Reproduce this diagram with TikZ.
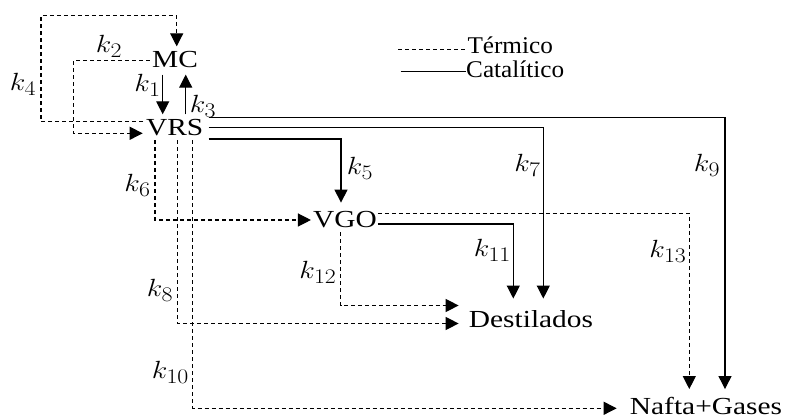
\documentclass[tikz,border=0pt]{standalone}
\usepackage{fontspec}
\usepackage{graphicx}
\setmainfont{Liberation Serif}
\usetikzlibrary{arrows.meta}
\newcommand{\wt}[1]{\scalebox{1.2}[1]{#1}}
\newcommand{\wk}[1]{\scalebox{1.15}[1]{#1}}
\newcommand{\wl}[1]{\scalebox{1.05}[1]{#1}}
\begin{document}
\begin{tikzpicture}[x=1pt,y=-1pt,
  box/.style={inner sep=0pt,outer sep=0pt,font=\fontsize{24.5}{28}\selectfont},
  kl/.style={inner sep=0pt,font=\fontsize{28}{32}\selectfont},
  leg/.style={inner sep=0pt,anchor=base west,font=\fontsize{24}{28}\selectfont},
  th/.style={line width=1.2pt,dash pattern=on 4pt off 3pt},
  ca/.style={line width=1.2pt},
  arr/.style={-{Triangle[length=13pt,width=13pt]}}]
\useasboundingbox (0,0) rectangle (785,419);
% nodes
\node[box] (mc) at (175,60) {\wt{MC}};
\node[box] (vrs) at (174.7,128) {\wt{VRS}};
\node[box] (vgo) at (345,220) {\wt{VGO}};
\node[box] (des) at (531,319.4) {\wt{Destilados}};
\node[box] (naf) at (706,406.2) {\wt{Nafta+Gases}};
% legend
\node[leg] (tm) at (467.3,54) {\wl{Térmico}};
\node[leg] (ct) at (466,77.3) {\wl{Catalítico}};
\coordinate (lt) at (398.3,49.3);
\coordinate (lc) at (400.7,71.7);
\draw[th] (lt) -- (tm.west |- lt);
\draw[ca] (lc) -- (ct.west |- lc);
% k4 and k2 loops
\draw[th,arr,shorten <=3pt,shorten >=5.4pt] (vrs.west |- 0,121.7) -| (41,15.7) -| (mc.north -| 176.7,0);
\draw[th,arr,shorten <=2.5pt,shorten >=3.4pt] (mc.west |- 0,60.7) -| (73.3,133.3) -- (vrs.west |- 0,133.3);
% k1, k3
\draw[ca,arr,shorten <=6.4pt,shorten >=5.4pt] (mc.south -| 162.7,0) -- (vrs.north -| 162.7,0);
\draw[ca,arr,shorten <=5.4pt,shorten >=6.4pt] (vrs.north -| 185.7,0) -- (mc.south -| 185.7,0);
% catalytic from VRS
\draw[ca,arr,shorten <=5.4pt,shorten >=8.4pt] (vrs.east |- 0,117.3) -| (naf.north -| 725,0);
\draw[ca,arr,shorten <=5.4pt,shorten >=12.2pt] (vrs.east |- 0,127.7) -| (des.north -| 543.3,0);
\draw[ca,arr,shorten <=5.4pt,shorten >=9.1pt] (vrs.east |- 0,139) -| (vgo.north -| 341,0);
% thermal from VRS
\draw[th,arr,shorten <=4pt,shorten >=2.2pt] (vrs.south -| 155,0) |- (vgo.west |- 0,220);
\draw[th,arr,shorten <=4pt,shorten >=10.3pt] (vrs.south -| 177.3,0) |- (des.west |- 0,323.5);
\draw[th,arr,shorten <=4pt,shorten >=13.3pt] (vrs.south -| 192.7,0) |- (naf.west |- 0,408.3);
% from VGO
\draw[th,arr,shorten <=1pt,shorten >=8.4pt] (vgo.east |- 0,213.3) -| (naf.north -| 689.3,0);
\draw[ca,arr,shorten <=1pt,shorten >=12.2pt] (vgo.east |- 0,224) -| (des.north -| 513.3,0);
\draw[th,arr,shorten <=4pt,shorten >=10.3pt] (vgo.south -| 340.7,0) |- (des.west |- 0,305.5);
% labels
\node[kl] (k1) at (147.5,85) {\wk{$k_1$}};
\node[kl] (k2) at (109,46) {\wk{$k_2$}};
\node[kl] (k3) at (203,106) {\wk{$k_3$}};
\node[kl] (k4) at (23,84) {\wk{$k_4$}};
\node[kl] (k5) at (360,168) {\wk{$k_5$}};
\node[kl] (k6) at (137.5,185) {\wk{$k_6$}};
\node[kl] (k7) at (527.5,165) {\wk{$k_7$}};
\node[kl] (k8) at (160,290) {\wk{$k_8$}};
\node[kl] (k9) at (707,165) {\wk{$k_9$}};
\node[kl] (k10) at (170.5,372) {\wk{$k_{10}$}};
\node[kl] (k11) at (492.5,250) {\wk{$k_{11}$}};
\node[kl] (k12) at (318,272) {\wk{$k_{12}$}};
\node[kl] (k13) at (668,251) {\wk{$k_{13}$}};
\end{tikzpicture}
\end{document}
